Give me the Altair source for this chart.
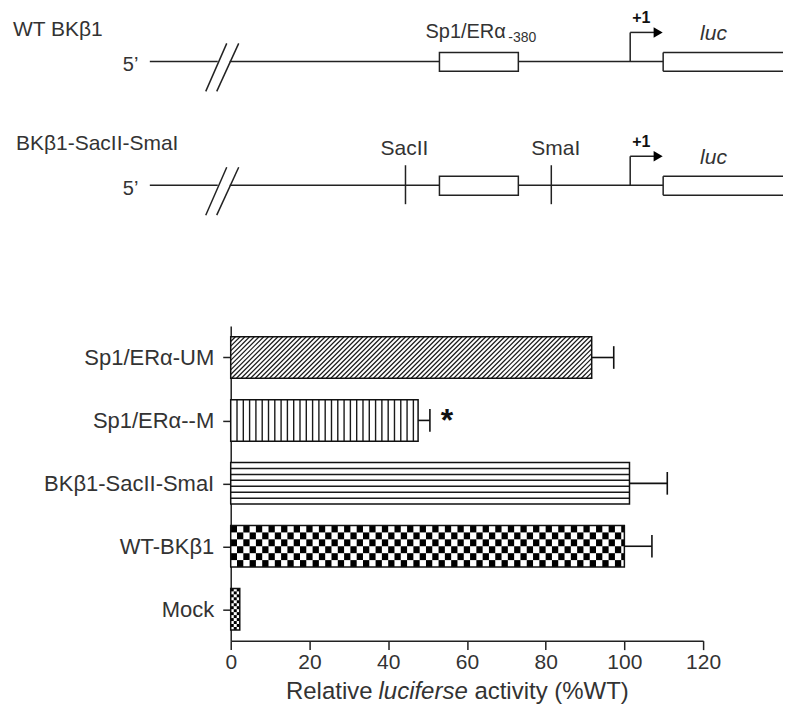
import json
import altair as alt
import pandas as pd

# ---------------- bar chart values ----------------
categories = ["Sp1/ERα-UM", "Sp1/ERα--M", "BKβ1-SacII-SmaI", "WT-BKβ1", "Mock"]
activity = [91.7, 47.6, 101.3, 100.0, 2.3]
sem = [5.6, 3.0, 9.6, 7.0, 0.0]
fill_pattern = ["diagonal", "vertical", "horizontal", "checker", "finechecker"]
significance = ["", "*", "", "", ""]
x_ticks = [0, 20, 40, 60, 80, 100, 120]

# ---------------- promoter schematic (schematic units) ----------------
construct_names = ["WT BKβ1", "BKβ1-SacII-SmaI"]
construct_row_y = [63, 187]
construct_name_x = [13, 16]
construct_name_y = [38, 152]
five_prime_x = 123
backbone_x1 = [150, 230]
backbone_x2 = [218, 664]
break_x_low = [206, 217]
break_x_high = [227, 239]
element_box_x = [440, 519]
element_name = "Sp1/ERα"
element_sub = "-380"
element_name_x = [426, 509]
element_name_y = [40, 44]
tss_x = 631
tss_arrow_end = 655
tss_arrow_tip = 659
luc_box_x = [664, 784]
luc_label_x = 701
plus1_x = 633
site_names = ["SacII", "SmaI"]
site_x = [406, 552]
site_label_x = [381, 532]

FONT = "Liberation Sans"
INK = "#222222"
TXT = "#333333"

# ======================= schematic chart =======================
segs, boxes, heads, texts, italic, bold, subs = [], [], [], [], [], [], []
for r, ry in enumerate(construct_row_y):
    for a, b in zip(backbone_x1, backbone_x2):
        segs.append(dict(x=a, x2=b, y=ry, y2=ry))
    for lo, hi in zip(break_x_low, break_x_high):
        segs.append(dict(x=lo, x2=hi, y=ry + 30, y2=ry - 18))
    segs.append(dict(x=tss_x, x2=tss_x, y=ry, y2=ry - 29))
    segs.append(dict(x=tss_x, x2=tss_arrow_end, y=ry - 29, y2=ry - 29))
    segs.append(dict(x=luc_box_x[0], x2=luc_box_x[1], y=ry - 9, y2=ry - 9))
    segs.append(dict(x=luc_box_x[0], x2=luc_box_x[1], y=ry + 10, y2=ry + 10))
    segs.append(dict(x=luc_box_x[0], x2=luc_box_x[0], y=ry - 9, y2=ry + 10))
    boxes.append(dict(x=element_box_x[0], x2=element_box_x[1], y=ry - 9, y2=ry + 10))
    heads.append(dict(x=tss_arrow_tip, y=ry - 29))
    texts.append(dict(x=construct_name_x[r], y=construct_name_y[r], t=construct_names[r], fs=21))
    texts.append(dict(x=five_prime_x, y=ry + 10, t="5’", fs=20))
    italic.append(dict(x=luc_label_x, y=ry - 21, t="luc", fs=21))
    bold.append(dict(x=plus1_x, y=ry - 38, t="+1", fs=16))

texts.append(dict(x=element_name_x[0], y=element_name_y[0], t=element_name, fs=20))
subs.append(dict(x=element_name_x[1], y=element_name_y[1], t=element_sub, fs=14))
row2 = construct_row_y[1]
for name, sx, lx in zip(site_names, site_x, site_label_x):
    segs.append(dict(x=sx, x2=sx, y=row2 - 20, y2=row2 + 19))
    texts.append(dict(x=lx, y=row2 - 30, t=name, fs=21))

DX = alt.Scale(domain=[231, 784], nice=False, zero=False)
DY = alt.Scale(domain=[10, 248], nice=False, zero=False, reverse=True)


def dx(f="x"):
    return alt.X(f"{f}:Q", scale=DX, axis=None, title=None)


def dy(f="y"):
    return alt.Y(f"{f}:Q", scale=DY, axis=None, title=None)


seg_layer = alt.Chart(pd.DataFrame(segs)).mark_rule(color=INK, strokeWidth=1.5).encode(
    x=dx(), x2="x2:Q", y=dy(), y2="y2:Q")
box_layer = alt.Chart(pd.DataFrame(boxes)).mark_rect(fill="white", stroke=INK, strokeWidth=1.5).encode(
    x=dx(), x2="x2:Q", y=dy(), y2="y2:Q")
head_layer = alt.Chart(pd.DataFrame(heads)).mark_point(
    shape="triangle-right", filled=True, color="#000", size=110, opacity=1).encode(x=dx(), y=dy())


def text_layer(rows, color=TXT, **kw):
    return alt.Chart(pd.DataFrame(rows)).mark_text(
        align="left", baseline="alphabetic", font=FONT, color=color, **kw).encode(
        x=dx(), y=dy(), text="t:N", size=alt.Size("fs:Q", scale=None, legend=None))


diagram = alt.layer(
    seg_layer, box_layer, head_layer,
    text_layer(texts),
    text_layer(italic, fontStyle="italic"),
    text_layer(bold, color="#111", fontWeight="bold"),
    text_layer(subs),
).properties(width=553, height=238)

# ======================= bar chart =======================
W_PLOT, H_PLOT = 473, 315
HALF = 0.33
px_x = W_PLOT / 120.0
px_y = H_PLOT / 5.0
n = len(categories)

bar_rows, lines, checks = [], [], []
for i, (c, v, e, pat, s) in enumerate(zip(categories, activity, sem, fill_pattern, significance)):
    pos = n - 1 - i
    lo, hi = pos - HALF, pos + HALF
    bar_rows.append(dict(cat=c, pos=pos, lo=lo, hi=hi, zero=0.0, val=v, err=e, up=v + e,
                         clo=pos - 0.18, chi=pos + 0.18, sig=s))
    if pat == "diagonal":
        D = (2 * HALF * px_y) / px_x
        step = 1.2
        k = 0
        while True:
            x0 = -D + k * step
            if x0 >= v:
                break
            t0 = max(0.0, (0 - x0) / D)
            t1 = min(1.0, (v - x0) / D)
            if t1 > t0:
                lines.append(dict(x=x0 + t0 * D, x2=x0 + t1 * D,
                                  y=lo + t0 * 2 * HALF, y2=lo + t1 * 2 * HALF, sw=1.2))
            k += 1
    elif pat == "vertical":
        step = 1.6
        k = 1
        while k * step < v - 0.3:
            lines.append(dict(x=k * step, x2=k * step, y=lo, y2=hi, sw=1.4))
            k += 1
    elif pat == "horizontal":
        nl = 7
        for k in range(1, nl):
            yy = lo + k * (2 * HALF) / nl
            lines.append(dict(x=0.0, x2=v, y=yy, y2=yy, sw=1.5))
    elif pat in ("checker", "finechecker"):
        nrows = 6 if pat == "checker" else 14
        cw = 1.6 if pat == "checker" else v / 3.0
        ncols = int(v / cw + 0.999)
        rh = 2 * HALF / nrows
        for cidx in range(ncols):
            for ridx in range(nrows):
                if (cidx + ridx) % 2 == 0:
                    checks.append(dict(x=cidx * cw, x2=min((cidx + 1) * cw, v),
                                       y=hi - ridx * rh, y2=hi - (ridx + 1) * rh))

bars_df = pd.DataFrame(bar_rows)
lines_df = pd.DataFrame(lines)
checks_df = pd.DataFrame(checks)

XS = alt.Scale(domain=[0, 120], nice=False, zero=True)
YS = alt.Scale(domain=[-0.5, 4.5], nice=False, zero=False)
label_expr = json.dumps([categories[n - 1 - p] for p in range(n)], ensure_ascii=False) + "[datum.value]"

x_axis = alt.Axis(values=x_ticks, title=None, grid=False, domainColor=INK, domainWidth=1.5,
                  tickColor=INK, tickWidth=1.5, tickSize=9, labelFontSize=21, labelColor=TXT,
                  labelPadding=2, labelFont=FONT, labelFlush=False)
y_axis = alt.Axis(values=list(range(n)), labelExpr=label_expr, title=None, grid=False,
                  domainColor=INK, domainWidth=1.5, tickColor=INK, tickWidth=1.5, tickSize=8,
                  labelFontSize=22, labelColor=TXT, labelPadding=9, labelFont=FONT)


def bx(f):
    return alt.X(f"{f}:Q", scale=XS, axis=x_axis, title=None)


def by(f):
    return alt.Y(f"{f}:Q", scale=YS, axis=y_axis, title=None)


base = alt.Chart(bars_df)
fill_layer = base.mark_rect(fill="white").encode(x=bx("zero"), x2="val:Q", y=by("lo"), y2="hi:Q")
line_layer = alt.Chart(lines_df).mark_rule(color="#1a1a1a").encode(
    x=bx("x"), x2="x2:Q", y=by("y"), y2="y2:Q", size=alt.Size("sw:Q", scale=None, legend=None))
check_layer = alt.Chart(checks_df).mark_rect(fill="#000").encode(
    x=bx("x"), x2="x2:Q", y=by("y"), y2="y2:Q")
outline_layer = base.mark_rect(fill="transparent", stroke="#111", strokeWidth=1.5).encode(
    x=bx("zero"), x2="val:Q", y=by("lo"), y2="hi:Q")
err_layer = base.transform_filter("datum.err > 0").mark_rule(color="#111", strokeWidth=1.6).encode(
    x=bx("val"), x2="up:Q", y=by("pos"))
cap_layer = base.transform_filter("datum.err > 0").mark_rule(color="#111", strokeWidth=1.6).encode(
    x=bx("up"), y=by("clo"), y2="chi:Q")
star_layer = base.transform_filter("datum.sig != ''").mark_text(
    align="center", baseline="alphabetic", dx=17, dy=11, fontSize=32, fontWeight="bold",
    font=FONT, color="#111").encode(x=bx("up"), y=by("pos"), text="sig:N")

one = pd.DataFrame({"k": [0]})
title_y = 699 - 326
t1 = alt.Chart(one).mark_text(align="right", baseline="alphabetic", fontSize=24, font=FONT, color=TXT).encode(
    x=alt.value(373 - 231), y=alt.value(title_y), text=alt.value("Relative"))
t2 = alt.Chart(one).mark_text(align="left", baseline="alphabetic", fontSize=24, font=FONT, color=TXT,
                              fontStyle="italic").encode(
    x=alt.value(379 - 231), y=alt.value(title_y), text=alt.value("luciferse"))
t3 = alt.Chart(one).mark_text(align="left", baseline="alphabetic", fontSize=24, font=FONT, color=TXT).encode(
    x=alt.value(475 - 231), y=alt.value(title_y), text=alt.value("activity (%WT)"))

bar_chart = alt.layer(
    fill_layer, line_layer, check_layer, outline_layer, err_layer, cap_layer, star_layer, t1, t2, t3
).properties(width=W_PLOT, height=H_PLOT)

chart = alt.vconcat(diagram, bar_chart, spacing=80, bounds="flush").properties(
    padding={"left": 5, "top": 0, "right": 0, "bottom": 0}
).configure(font=FONT).configure_view(strokeWidth=0, stroke="transparent")

chart.save("out.html", embed_options={"renderer": "svg", "actions": False})
